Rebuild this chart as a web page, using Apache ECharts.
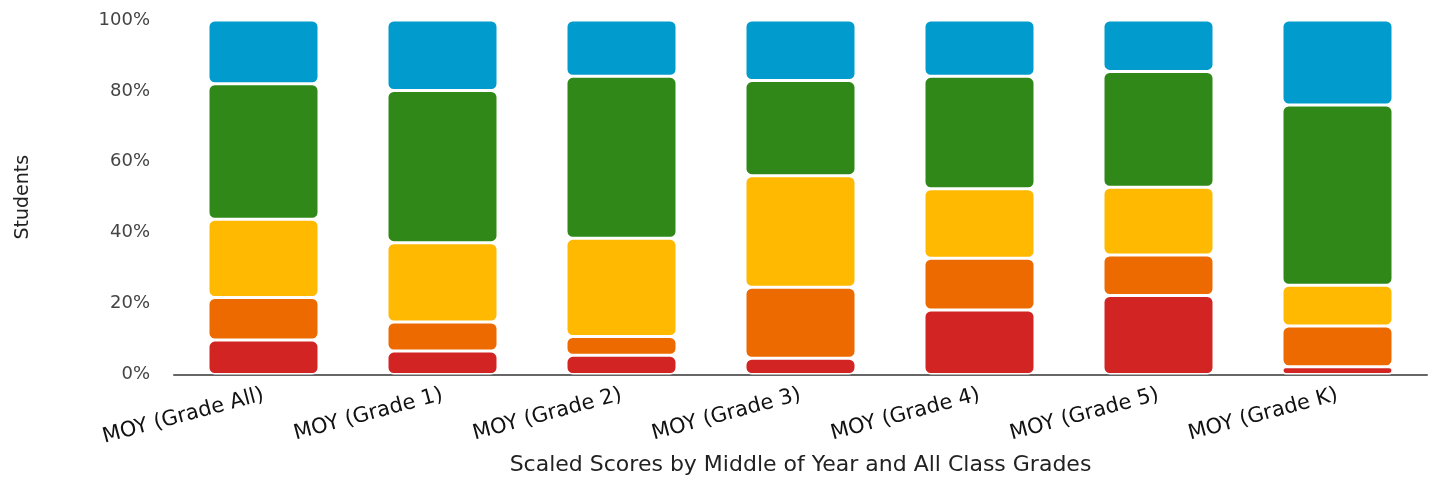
<!DOCTYPE html>
<html>
<head>
<meta charset="utf-8">
<script src="https://cdn.jsdelivr.net/npm/echarts@6/dist/echarts.min.js"></script>
<style>
html, body { margin: 0; padding: 0; background: #fff; }
#main { width: 1432px; height: 480px; }
</style>
</head>
<body>
<div id="main"></div>
<script>
// categories and stacked shares (percent of students), bottom to top
var grades = ['MOY (Grade All)', 'MOY (Grade 1)', 'MOY (Grade 2)', 'MOY (Grade 3)', 'MOY (Grade 4)', 'MOY (Grade 5)', 'MOY (Grade K)'];
var redVals    = [9.7, 6.6, 5.4, 4.6, 18.2, 22.3, 2.2];
var orangeVals = [12.0, 8.2, 5.3, 20.0, 14.6, 11.4, 11.5];
var yellowVals = [22.1, 22.4, 27.7, 31.5, 19.6, 19.1, 11.5];
var greenVals  = [38.2, 42.9, 45.7, 26.8, 31.7, 32.7, 50.8];
var blueVals   = [18.0, 19.9, 15.9, 17.1, 15.9, 14.5, 24.0];

var layers = [
    {name: 'red', data: redVals, color: '#d32424'},
    {name: 'orange', data: orangeVals, color: '#ec6a00'},
    {name: 'yellow', data: yellowVals, color: '#feb900'},
    {name: 'green', data: greenVals, color: '#2f8817'},
    {name: 'blue', data: blueVals, color: '#019ccd'}
];

var font = '"DejaVu Sans", sans-serif';

var myChart = echarts.init(document.getElementById('main'));
var option = {
    animation: false,
    grid: {left: 174, right: 5, top: 20, bottom: 105.5, outerBoundsMode: 'none'},
    xAxis: {
        type: 'category',
        data: grades,
        name: 'Scaled Scores by Middle of Year and All Class Grades',
        nameLocation: 'middle',
        nameGap: 80,
        nameTextStyle: {color: '#222', fontSize: 22, fontFamily: font},
        axisLine: {lineStyle: {color: '#666', width: 2}},
        axisTick: {show: false},
        axisLabel: {
            rotate: 15,
            interval: 0,
            margin: 20,
            color: '#111',
            fontSize: 21,
            fontFamily: font
        }
    },
    yAxis: {
        type: 'value',
        min: 0,
        max: 100,
        interval: 20,
        name: 'Students',
        nameLocation: 'middle',
        nameGap: 141,
        nameTextStyle: {color: '#222', fontSize: 19, fontFamily: font},
        axisLine: {show: false},
        axisTick: {show: false},
        splitLine: {show: false},
        axisLabel: {
            formatter: '{value}%',
            margin: 24,
            color: '#444',
            fontSize: 18,
            fontFamily: font
        }
    },
    series: layers.map(function (l) {
        return {
            name: l.name,
            type: 'bar',
            stack: 'total',
            barWidth: 111,
            data: l.data,
            itemStyle: {
                color: l.color,
                borderColor: '#fff',
                borderWidth: 1.5,
                borderRadius: 6
            }
        };
    })
};
myChart.setOption(option);
</script>
</body>
</html>
